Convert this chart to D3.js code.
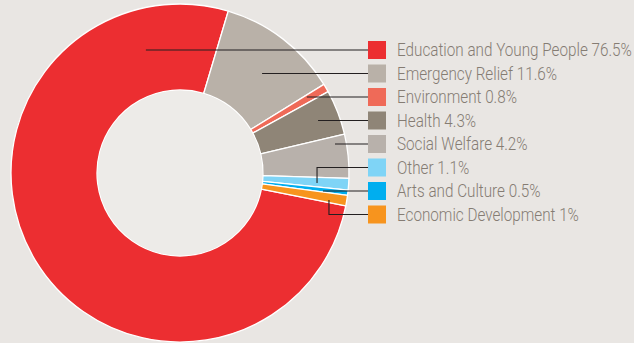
<!DOCTYPE html>
<html>
<head>
<meta charset="utf-8">
<script src="https://cdn.jsdelivr.net/npm/d3@7"></script>
<style>
  html, body { margin: 0; padding: 0; background: #e9e6e3; }
  svg { display: block; }
</style>
</head>
<body>
<svg id="chart"></svg>
<script>
const categories = ['Education and Young People', 'Emergency Relief', 'Environment', 'Health',
  'Social Welfare', 'Other', 'Arts and Culture', 'Economic Development'];
const values = [76.5, 11.6, 0.8, 4.3, 4.2, 1.1, 0.5, 1];
const valueLabels = ['76.5%', '11.6%', '0.8%', '4.3%', '4.2%', '1.1%', '0.5%', '1%'];
const colors = ['#ec2e31', '#b9b1a8', '#ef6a58', '#8f8577', '#b8b1ab', '#7fd4f6', '#00aeef', '#f7941e'];

// where each leader line starts inside the ring: [angle in degrees, radius]
const leaderStarts = [[-15.5, 127.6], [39.4, 129.3], [59, 148], [69.4, 147.5],
  [79.3, 157.7], [94.2, 137.4], [97, 144], [100.3, 151.4]];

const width = 634, height = 343;
const cx = 180, cy = 173, outerR = 169, innerR = 83;
const rad = Math.PI / 180;

const svg = d3.select('#chart').attr('width', width).attr('height', height);

const pie = d3.pie().sort(null).value(d => d)
  .startAngle(-258.8 * rad).endAngle((360 - 258.8) * rad);
const arc = d3.arc().innerRadius(innerR).outerRadius(outerR);

const g = svg.append('g').attr('transform', `translate(${cx},${cy})`);

g.selectAll('path.slice')
  .data(pie(values))
  .enter()
  .append('path')
  .attr('class', 'slice')
  .attr('d', arc)
  .attr('fill', (d, i) => colors[i])
  .attr('stroke', '#ffffff')
  .attr('stroke-width', 1.3)
  .attr('stroke-linejoin', 'round');

g.append('circle').attr('r', innerR - 0.6).attr('fill', '#edebe8');

// legend
const rowY = d3.scalePoint().domain(categories).range([50, 214.5]);
const boxX = 368, box = 18;

const lines = svg.append('g');
categories.forEach((c, i) => {
  const [px, py] = d3.pointRadial(leaderStarts[i][0] * rad, leaderStarts[i][1]);
  const x0 = cx + px, y0 = cy + py, y1 = rowY(c);
  const path = Math.abs(y1 - y0) < 1.5
    ? `M${x0},${y1}H${boxX}`
    : `M${x0},${y0}V${y1}H${boxX}`;
  lines.append('path').attr('d', path)
    .attr('fill', 'none').attr('stroke', '#231f20').attr('stroke-width', 1.1);
});

const legend = svg.append('g');
const rows = legend.selectAll('g').data(categories).enter().append('g')
  .attr('transform', d => `translate(${boxX},${rowY(d)})`);

rows.append('rect')
  .attr('x', 0).attr('y', -box / 2).attr('width', box).attr('height', box)
  .attr('fill', (d, i) => colors[i]);

const labels = rows.append('text')
  .attr('y', 6.3)
  .attr('font-family', 'Roboto, sans-serif')
  .attr('font-weight', 300)
  .attr('font-size', 18)
  .attr('fill', '#857c73')
  .text((d, i) => `${d} ${valueLabels[i]}`);

// the original face is condensed: squeeze horizontally so the longest label spans ~235px
const natural = labels.nodes()[0].getComputedTextLength();
const sx = 235 / natural;
labels.attr('transform', `translate(29,0) scale(${sx},1)`);
</script>
</body>
</html>
